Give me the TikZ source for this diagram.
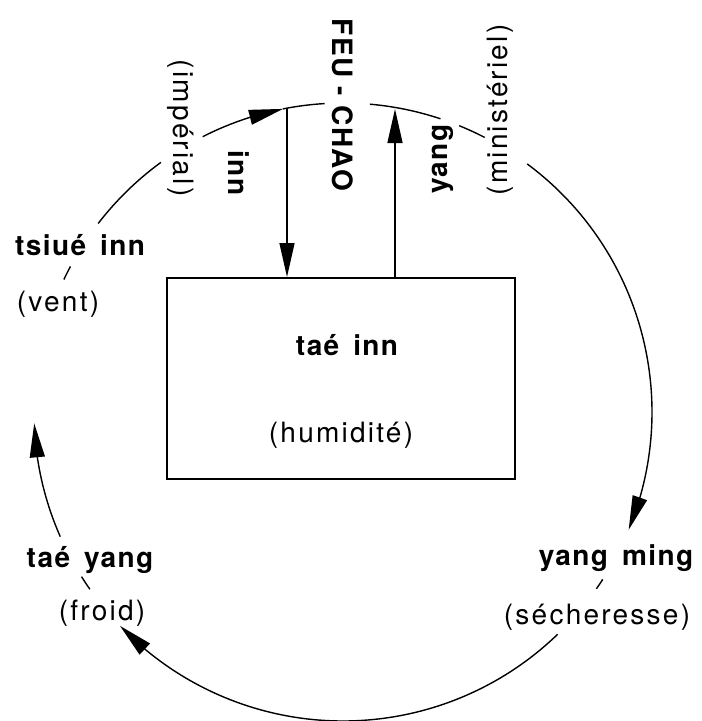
\documentclass[tikz,border=0pt]{standalone}
\usepackage{fontspec}
\setmainfont{TeX Gyre Heros}[LetterSpace=5]
\newfontfamily\regf{TeX Gyre Heros}[LetterSpace=8]
\usetikzlibrary{arrows.meta,bending}
\newcommand{\wsp}{\hspace{0.5em}}
\begin{document}
\begin{tikzpicture}[x=1pt,y=-1pt,
  ring/.style={line width=1.4pt},
  tip/.style={-{Triangle[length=34pt,width=15pt]}},
  lbl/.style={inner sep=0pt,font=\fontsize{28}{32}\selectfont\bfseries},
  sub/.style={inner sep=0pt,font=\fontsize{28}{32}\selectfont\regf},
]
\useasboundingbox (0,0) rectangle (702,721);
\coordinate (c) at (343,412);
% ring arcs (image angles, clockwise)
\draw[ring] ([shift={(217.6:309)}]c) arc[start angle=217.6,end angle=233.9,radius=309];
\draw[ring,tip] ([shift={(243:309)}]c) arc[start angle=243,end angle=258.8,radius=309];
\draw[ring] ([shift={(258.8:309)}]c) arc[start angle=258.8,end angle=266.6,radius=309];
\draw[ring] ([shift={(275:309)}]c) arc[start angle=275,end angle=288.4,radius=309];
\draw[ring] ([shift={(292.1:309)}]c) arc[start angle=292.1,end angle=297.3,radius=309];
\draw[ring,tip] ([shift={(306.6:309)}]c) arc[start angle=306.6,end angle=382.4,radius=309];
\draw[ring] ([shift={(32.8:309)}]c) arc[start angle=32.8,end angle=34.9,radius=309];
\draw[ring,tip] ([shift={(46:309)}]c) arc[start angle=46,end angle=136.2,radius=309];
\draw[ring] ([shift={(145:309)}]c) arc[start angle=145,end angle=147.8,radius=309];
\draw[ring,tip] ([shift={(156.2:309)}]c) arc[start angle=156.2,end angle=177.9,radius=309];
\draw[ring] ([shift={(205.4:309)}]c) arc[start angle=205.4,end angle=208.1,radius=309];
% box
\node[draw,line width=2pt,minimum width=348pt,minimum height=201pt,inner sep=0pt] (box) at (341,378.5) {};
\node[lbl,anchor=base] (taeinn) at (347,355) {taé\wsp inn};
\node[sub,anchor=base] (humid) at (341,442) {(humidité)};
% vertical arrows
\coordinate (innTop) at (287,108);
\coordinate (yangTop) at (395,109);
\draw[line width=1.4pt,tip] (innTop) -- (innTop |- box.north);
\draw[line width=1.4pt,tip] (box.north -| yangTop) -- (yangTop);
% labels
\node[lbl,anchor=base] (tsiue) at (80,255) {tsiué\wsp inn};
\node[sub,anchor=base] (vent) at (58,311) {(vent)};
\node[lbl,anchor=base] (taeyang) at (90,567) {taé\wsp yang};
\node[sub,anchor=base] (froid) at (102,620) {(froid)};
\node[lbl,anchor=base] (yangming) at (616,565) {yang\wsp ming};
\node[sub,anchor=base] (sech) at (597,624) {(sécheresse)};
\node[sub,rotate=-90] (imper) at (181,128) {(impérial)};
\node[lbl,rotate=-90,anchor=base] (inn) at (228,173) {inn};
\node[lbl,rotate=-90,anchor=base] (feu) at (332,105) {FEU - CHAO};
\node[lbl,rotate=90,anchor=base] (yang) at (447,159) {yang};
\node[sub,rotate=90] (minist) at (500,110) {(ministériel)};
\end{tikzpicture}
\end{document}
